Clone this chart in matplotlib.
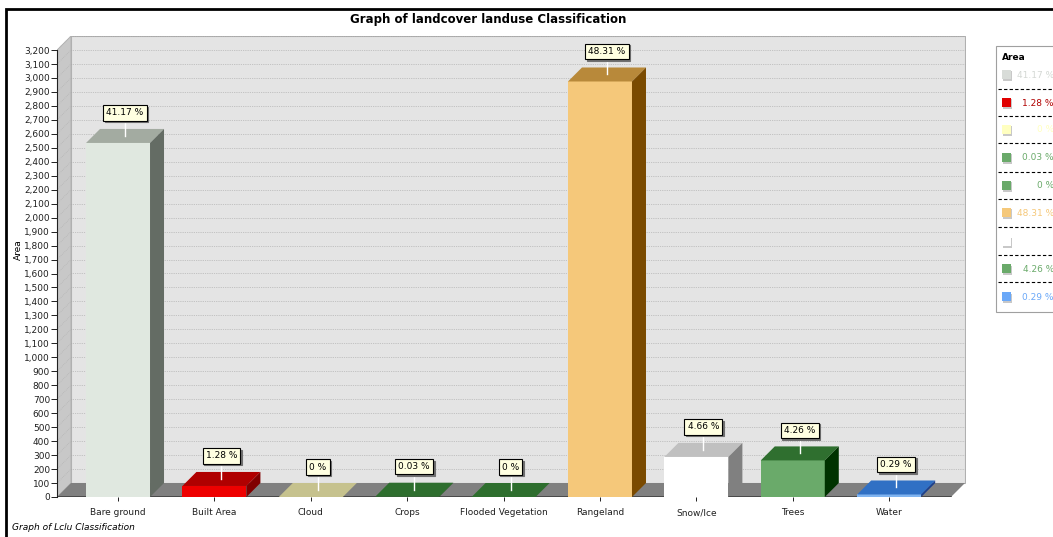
import matplotlib
matplotlib.use("Agg")
import matplotlib.pyplot as plt
import matplotlib.transforms as mtransforms
from matplotlib.patches import Polygon, Rectangle
from matplotlib.lines import Line2D
from matplotlib.ticker import FuncFormatter

# data
classes = ["Bare ground", "Built Area", "Cloud", "Crops", "Flooded Vegetation",
           "Rangeland", "Snow/Ice", "Trees", "Water"]
areas = [2535, 79, 0, 2, 0, 2975, 287, 262, 18]
percents = ["41.17 %", "1.28 %", "0 %", "0.03 %", "0 %", "48.31 %", "4.66 %", "4.26 %", "0.29 %"]
yticks = list(range(0, 3201, 100))

front_colors = ["#e0e8e0", "#ee0000", "#ffffc0", "#6aaa6a", "#6aaa6a", "#f5c87a", "#ffffff", "#6aaa6a", "#80b4f0"]
top_colors = ["#a3aba1", "#b00000", "#c6c28e", "#2e6e2e", "#2e6e2e", "#b8893a", "#c0c0c0", "#2f6f2f", "#3070c4"]
side_colors = ["#646c64", "#800000", "#8a875a", "#1a4a1a", "#1a4a1a", "#7a4a00", "#808080", "#003300", "#1a3f8f"]
legend_sq = ["#d8dcd8", "#e00000", "#ffffc0", "#6aaa6a", "#6aaa6a", "#f5c87a", "#ffffff", "#6aaa6a", "#6aa8f8"]
legend_txt = ["#d4d8d4", "#b00000", "#ffffc0", "#6aaa6a", "#6aaa6a", "#f5c87a", "#ffffff", "#6aaa6a", "#6aa8f8"]

W, H = 1053, 537
fig = plt.figure(figsize=(W / 100, H / 100), dpi=100)


def fx(x):
    return x / W


def fy(y):
    return 1 - y / H


# axes geometry (pixels)
px_left, px_right, px_bottom, px_top = 57, 966, 497, 36
ax = fig.add_axes([fx(px_left), fy(px_bottom), (px_right - px_left) / W, (px_bottom - px_top) / H])
ax.patch.set_visible(False)

xl, xr_end = -0.633, 8.797
unit_x = (px_right - px_left) / (xr_end - xl)
ytop = 3200 + 14 * 3200 / 445
unit_y = (px_bottom - px_top) / ytop
ax.set_xlim(xl, xr_end)
ax.set_ylim(0, ytop)

depth = 14
dx = depth / unit_x
dy = depth / unit_y
xr = 8.641
bw = 64 / unit_x

# back wall
ax.add_patch(Polygon([(xl + dx, dy), (xr + dx, dy), (xr + dx, 3200 + dy), (xl + dx, 3200 + dy)],
                     closed=True, facecolor="#e4e4e4", edgecolor="#b0b0b0", lw=0.8, zorder=1))
# left wall
ax.add_patch(Polygon([(xl, 0), (xl + dx, dy), (xl + dx, 3200 + dy), (xl, 3200)],
                     closed=True, facecolor="#c8c8c8", edgecolor="#b0b0b0", lw=0.6, zorder=1))
for v in yticks[1:]:
    ax.plot([xl + dx, xr + dx], [v + dy, v + dy], color="#a2a2a2", lw=0.5,
            linestyle=(0, (1.0, 1.6)), zorder=1.5)
    ax.plot([xl, xl + dx], [v, v + dy], color="#b0b0b0", lw=0.5,
            linestyle=(0, (1.0, 1.6)), zorder=1.5)
# floor
ax.add_patch(Polygon([(xl, 0), (xr, 0), (xr + dx, dy), (xl + dx, dy)],
                     closed=True, facecolor="#808080", edgecolor="none", zorder=2))
ax.plot([xl, xr], [0, 0], color="#404040", lw=1.2, zorder=2.1)

# bars
for i, (v, lab) in enumerate(zip(areas, percents)):
    x0, x1 = i - bw / 2, i + bw / 2
    ax.add_patch(Rectangle((x0, 0), bw, v, facecolor=front_colors[i], edgecolor="none", zorder=3))
    ax.add_patch(Polygon([(x0, v), (x1, v), (x1 + dx, v + dy), (x0 + dx, v + dy)],
                         closed=True, facecolor=top_colors[i], edgecolor="none", zorder=3))
    ax.add_patch(Polygon([(x1, 0), (x1 + dx, dy), (x1 + dx, v + dy), (x1, v)],
                         closed=True, facecolor=side_colors[i], edgecolor="none", zorder=3))
    cx = i + dx / 2
    cy = v + dy / 2
    by = cy + 23 / unit_y
    ax.plot([cx, cx], [cy, by], color="white", lw=1.0, zorder=4)
    shadow = mtransforms.offset_copy(ax.transData, fig=fig, x=1.5, y=-1.5, units="dots")
    ax.text(cx, by, lab, transform=shadow, ha="center", va="center", fontsize=6.5,
            color="#707070", zorder=4.5,
            bbox=dict(boxstyle="square,pad=0.35", facecolor="#707070", edgecolor="#707070", lw=0.8))
    ax.text(cx, by, lab, ha="center", va="center", fontsize=6.5, color="black", zorder=5,
            bbox=dict(boxstyle="square,pad=0.35", facecolor="#ffffe1", edgecolor="black", lw=0.8))

# axes decoration
for s in ["top", "right", "bottom"]:
    ax.spines[s].set_visible(False)
ax.spines["left"].set_bounds(0, 3200)
ax.spines["left"].set_color("#202020")
ax.spines["left"].set_linewidth(0.8)
ax.set_yticks(yticks)
ax.yaxis.set_major_formatter(FuncFormatter(lambda v, p: f"{int(v):,}"))
ax.set_xticks(range(len(classes)))
ax.set_xticklabels(classes)
ax.tick_params(axis="y", length=4, width=0.7, pad=1, labelsize=6.5, colors="#202020")
ax.tick_params(axis="x", length=3, width=0.7, pad=10, labelsize=6.5, colors="#202020")
for t in ax.get_xticklabels():
    t.set_va("baseline")

fig.text(fx(488), fy(20), "Graph of landcover landuse Classification", ha="center", va="center",
         fontsize=8.5, fontweight="bold")
fig.text(fx(18), fy(250), "Area", ha="center", va="center", rotation=90, fontsize=6.5)
fig.text(fx(12), fy(527), "Graph of Lclu Classification", ha="left", va="center",
         fontsize=6.5, style="italic")

# outer frame
fig.patches.append(Rectangle((fx(6), fy(560)), (1080 - 6) / W, (560 - 9) / H, transform=fig.transFigure,
                             fill=False, edgecolor="black", lw=2))

# legend
fig.patches.append(Rectangle((fx(996), fy(312)), (1080 - 996) / W, (312 - 46) / H, transform=fig.transFigure,
                             facecolor="white", edgecolor="#a0a0a0", lw=0.8))
fig.text(fx(1002), fy(57), "Area", ha="left", va="center", fontsize=6.5, fontweight="bold")
rows = [75, 103, 130, 158, 186, 213, 242, 269, 297]
seps = [89, 116, 143, 172, 199, 227, 255, 282]
for i, ry in enumerate(rows):
    fig.patches.append(Rectangle((fx(1003.5), fy(ry + 5.5)), 9 / W, 9 / H, transform=fig.transFigure,
                                 facecolor="#c8c8c8", edgecolor="none"))
    fig.patches.append(Rectangle((fx(1002), fy(ry + 4)), 9 / W, 9 / H, transform=fig.transFigure,
                                 facecolor=legend_sq[i], edgecolor="none"))
    fig.text(fx(1054), fy(ry), percents[i], ha="right", va="center", fontsize=6.5, color=legend_txt[i])
for sy in seps:
    fig.lines.append(Line2D([fx(998), fx(1053)], [fy(sy), fy(sy)], transform=fig.transFigure,
                            color="black", lw=0.8, linestyle=(0, (3, 2))))

fig.savefig("out.png", dpi=100)
